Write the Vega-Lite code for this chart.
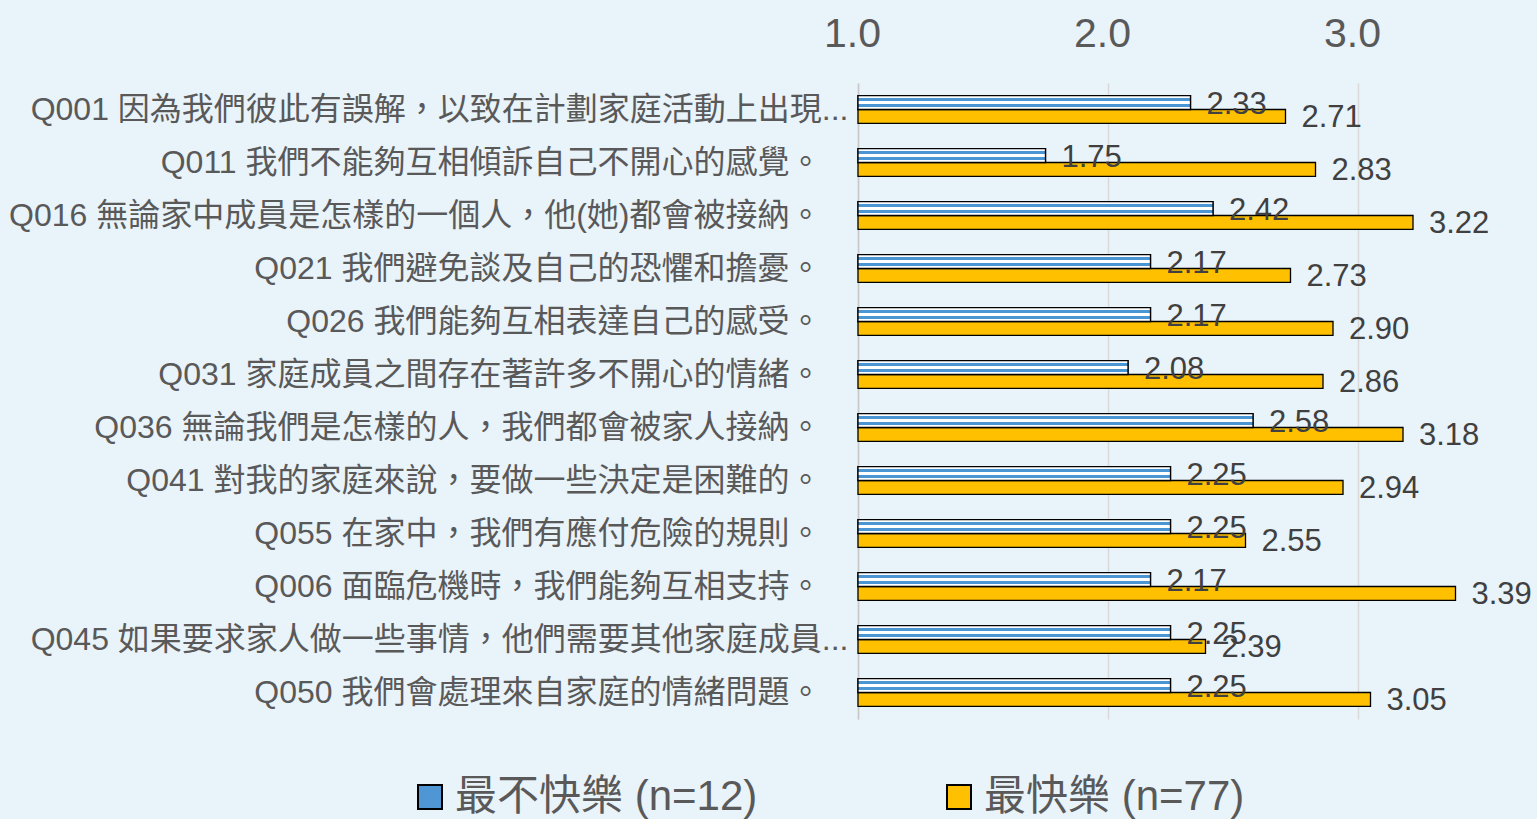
{
  "$schema": "https://vega.github.io/schema/vega-lite/v6.json",
  "width": 600,
  "height": 636,
  "autosize": {"type": "none"},
  "padding": {"left": 858, "top": 83, "right": 79, "bottom": 100},
  "background": "#e9f3fa",
  "config": {"view": {"stroke": null}, "font": "Liberation Sans, Noto Sans CJK TC"},
  "data": {
    "values": [
      {"q": "Q001 因為我們彼此有誤解，以致在計劃家庭活動上出現...", "series": "最不快樂 (n=12)", "value": 2.33},
      {"q": "Q001 因為我們彼此有誤解，以致在計劃家庭活動上出現...", "series": "最快樂 (n=77)", "value": 2.71},
      {"q": "Q011 我們不能夠互相傾訴自己不開心的感覺。", "series": "最不快樂 (n=12)", "value": 1.75},
      {"q": "Q011 我們不能夠互相傾訴自己不開心的感覺。", "series": "最快樂 (n=77)", "value": 2.83},
      {"q": "Q016 無論家中成員是怎樣的一個人，他(她)都會被接納。", "series": "最不快樂 (n=12)", "value": 2.42},
      {"q": "Q016 無論家中成員是怎樣的一個人，他(她)都會被接納。", "series": "最快樂 (n=77)", "value": 3.22},
      {"q": "Q021 我們避免談及自己的恐懼和擔憂。", "series": "最不快樂 (n=12)", "value": 2.17},
      {"q": "Q021 我們避免談及自己的恐懼和擔憂。", "series": "最快樂 (n=77)", "value": 2.73},
      {"q": "Q026 我們能夠互相表達自己的感受。", "series": "最不快樂 (n=12)", "value": 2.17},
      {"q": "Q026 我們能夠互相表達自己的感受。", "series": "最快樂 (n=77)", "value": 2.90},
      {"q": "Q031 家庭成員之間存在著許多不開心的情緒。", "series": "最不快樂 (n=12)", "value": 2.08},
      {"q": "Q031 家庭成員之間存在著許多不開心的情緒。", "series": "最快樂 (n=77)", "value": 2.86},
      {"q": "Q036 無論我們是怎樣的人，我們都會被家人接納。", "series": "最不快樂 (n=12)", "value": 2.58},
      {"q": "Q036 無論我們是怎樣的人，我們都會被家人接納。", "series": "最快樂 (n=77)", "value": 3.18},
      {"q": "Q041 對我的家庭來說，要做一些決定是困難的。", "series": "最不快樂 (n=12)", "value": 2.25},
      {"q": "Q041 對我的家庭來說，要做一些決定是困難的。", "series": "最快樂 (n=77)", "value": 2.94},
      {"q": "Q055 在家中，我們有應付危險的規則。", "series": "最不快樂 (n=12)", "value": 2.25},
      {"q": "Q055 在家中，我們有應付危險的規則。", "series": "最快樂 (n=77)", "value": 2.55},
      {"q": "Q006 面臨危機時，我們能夠互相支持。", "series": "最不快樂 (n=12)", "value": 2.17},
      {"q": "Q006 面臨危機時，我們能夠互相支持。", "series": "最快樂 (n=77)", "value": 3.39},
      {"q": "Q045 如果要求家人做一些事情，他們需要其他家庭成員...", "series": "最不快樂 (n=12)", "value": 2.25},
      {"q": "Q045 如果要求家人做一些事情，他們需要其他家庭成員...", "series": "最快樂 (n=77)", "value": 2.39},
      {"q": "Q050 我們會處理來自家庭的情緒問題。", "series": "最不快樂 (n=12)", "value": 2.25},
      {"q": "Q050 我們會處理來自家庭的情緒問題。", "series": "最快樂 (n=77)", "value": 3.05}
    ]
  },
  "encoding": {
    "y": {
      "field": "q", "type": "nominal", "sort": null, "title": null,
      "scale": {"paddingInner": 0.48, "paddingOuter": 0.24},
      "axis": {"ticks": false, "domain": true, "domainColor": "#c8c8c8", "domainWidth": 1.5, "labelFontSize": 32, "labelColor": "#595959", "labelLimit": 2000,
        "labelPadding": {"condition": {"test": "indexof(datum.value, '...') >= 0", "value": 10}, "value": 37}}
    },
    "yOffset": {"field": "series", "type": "nominal", "sort": ["最不快樂 (n=12)", "最快樂 (n=77)"], "scale": {"paddingInner": 0, "paddingOuter": 0}}
  },
  "layer": [
    {
      "mark": {"type": "bar", "stroke": "#000000", "strokeWidth": 1.3},
      "encoding": {
        "x": {"field": "value", "type": "quantitative", "title": null,
          "scale": {"domain": [1, 3.4], "zero": false, "nice": false},
          "axis": {"orient": "top", "values": [1, 2, 3], "format": ".1f", "ticks": false, "domain": false, "grid": true, "gridColor": "#d9d9d9", "gridWidth": 1.5, "labelFontSize": 41, "labelColor": "#595959", "labelPadding": 28, "labelOffset": -6, "labelFlush": false}},
        "x2": {"datum": 1},
        "color": {"field": "series", "type": "nominal",
          "scale": {"domain": ["最不快樂 (n=12)", "最快樂 (n=77)"], "range": ["#4f97d4", "#FFC000"]},
          "legend": {"orient": "none", "legendX": -449, "legendY": 693, "direction": "horizontal", "title": null, "symbolType": "square", "symbolSize": 576, "symbolStrokeColor": "#000000", "symbolStrokeWidth": 2, "labelFontSize": 42, "labelColor": "#595959", "labelOffset": 4, "labelLimit": 1000, "columnPadding": 180}}
      }
    },
    {
      "transform": [{"filter": "datum.series === '最不快樂 (n=12)'"}],
      "mark": {"type": "bar", "stroke": "#000000", "strokeWidth": 1.3,
        "fill": {"gradient": "linear", "x1": 0, "y1": 0, "x2": 0, "y2": 1, "stops": [
          {"offset": 0, "color": "#ffffff"}, {"offset": 0.2, "color": "#ffffff"},
          {"offset": 0.2, "color": "#4a95d3"}, {"offset": 0.4, "color": "#4a95d3"},
          {"offset": 0.4, "color": "#ffffff"}, {"offset": 0.6, "color": "#ffffff"},
          {"offset": 0.6, "color": "#4a95d3"}, {"offset": 0.8, "color": "#4a95d3"},
          {"offset": 0.8, "color": "#ffffff"}, {"offset": 1, "color": "#ffffff"}]}},
      "encoding": {
        "x": {"field": "value", "type": "quantitative"},
        "x2": {"datum": 1}
      }
    },
    {
      "mark": {"type": "text", "align": "left", "baseline": "middle", "dx": 16, "dy": 2, "fontSize": 31, "color": "#404040"},
      "encoding": {
        "x": {"field": "value", "type": "quantitative"},
        "text": {"field": "value", "type": "quantitative", "format": ".2f"}
      }
    }
  ]
}
